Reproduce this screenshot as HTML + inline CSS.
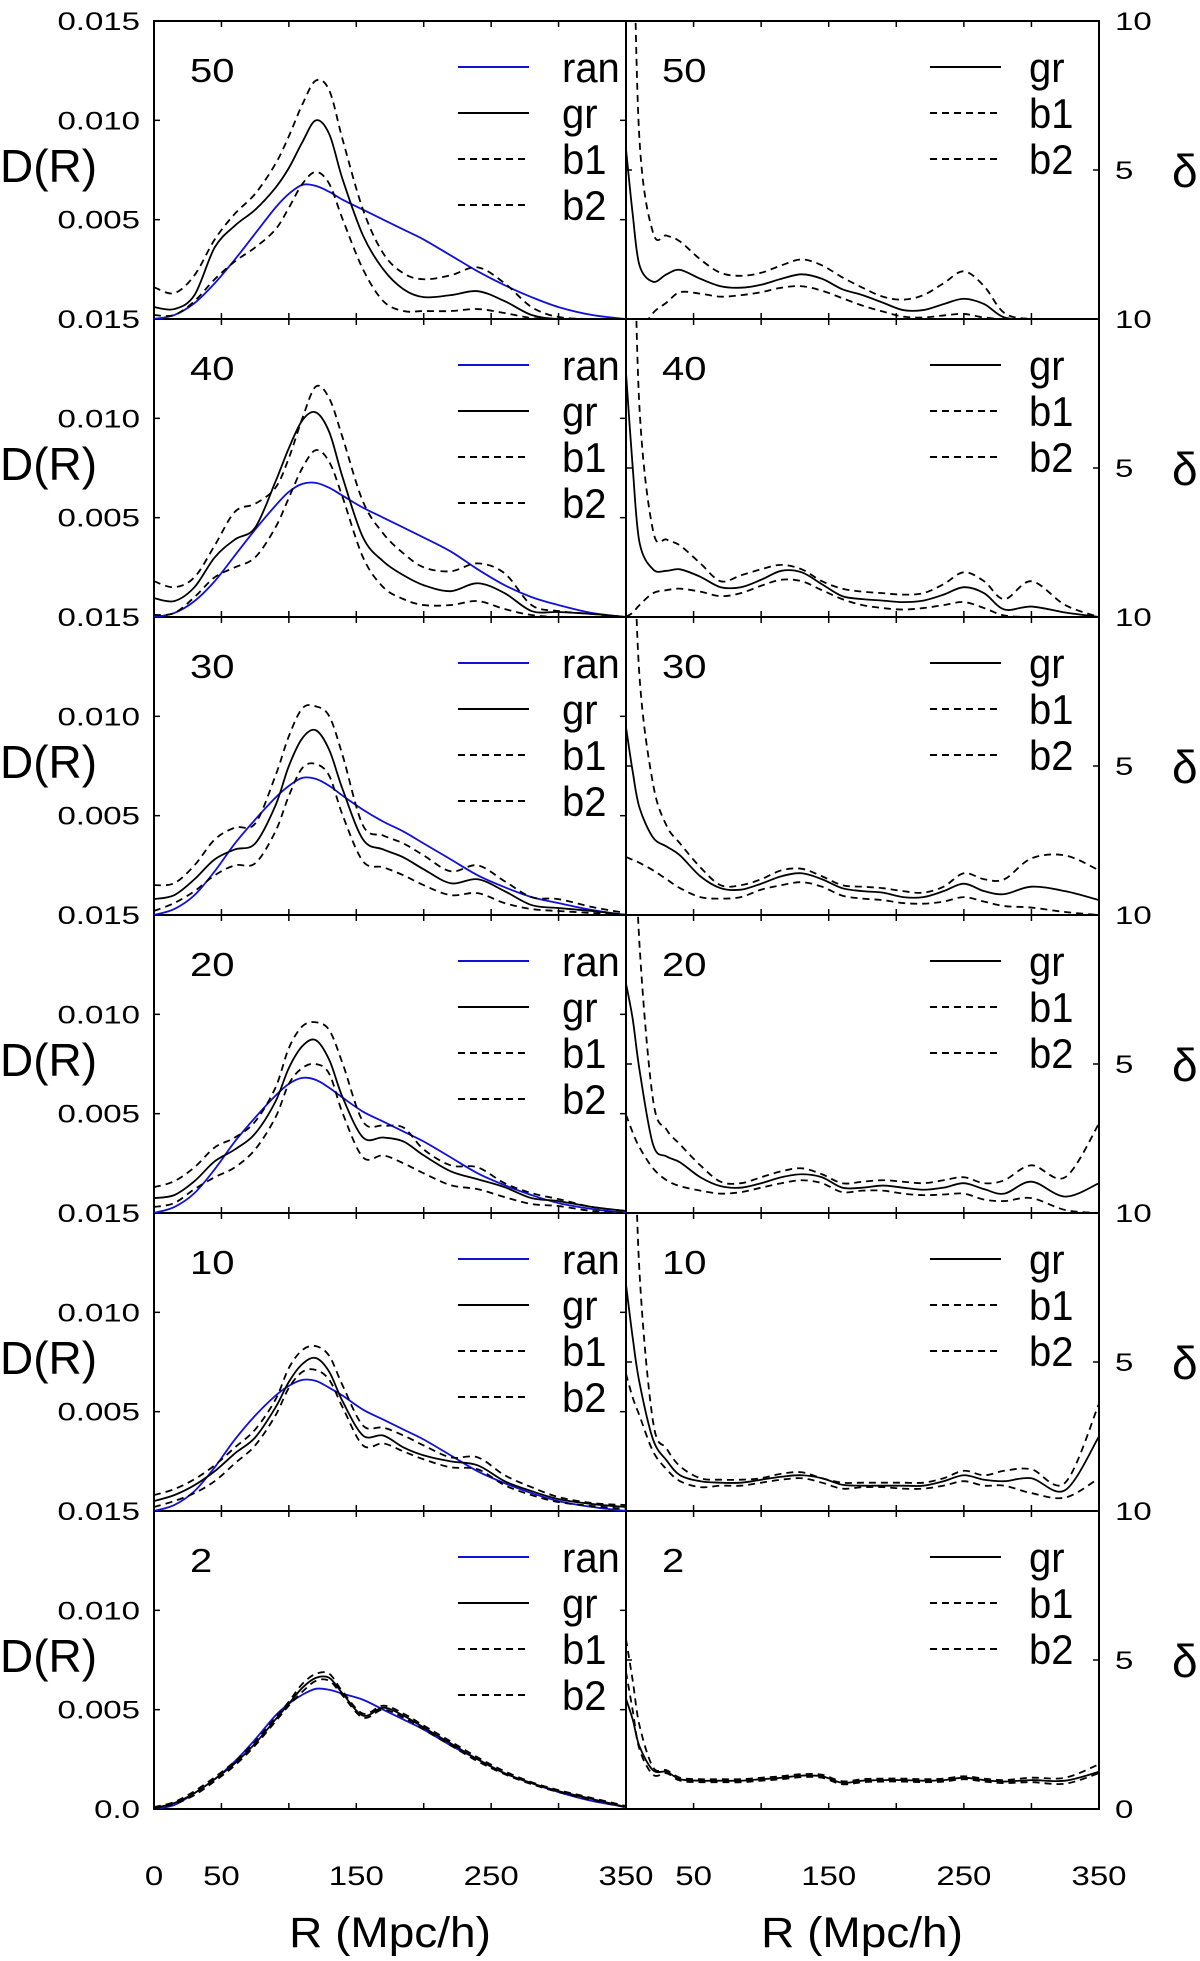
<!DOCTYPE html>
<html><head><meta charset="utf-8"><style>
html,body{margin:0;padding:0;background:#fff;}
svg{display:block;}
text{font-family:"Liberation Sans",sans-serif;fill:#000;}
</style></head>
<body>
<svg id="chart" width="1200" height="1961" viewBox="0 0 1200 1961" xmlns="http://www.w3.org/2000/svg">
<g id="frames"></g>
<g id="curves"></g>
<g id="labels"></g>
</svg>
<script>
// ---- data ----
const leftR = [0,15,30,45,60,75,90,100,110,120,130,140,155,170,185,200,220,240,260,280,300,325,350];
const rightR = [0,5,10,20,30,40,55,70,85,100,115,130,145,160,175,190,205,220,235,250,265,280,300,325,350];
const panelLabels = ["50","40","30","20","10","2"];
const leftTickLabels = ["0.015","0.010","0.005"];
const bottomLeftLabel = "0.0";
const rightTickLabels = ["10","5"];
const bottomRightLabel = "0";
const xTicksLeft = [0,50,150,250,350];
const xTicksRight = [50,150,250,350];

// D(R) in units of 1e-3
const ran50 = [0,0.2,0.8,1.8,3.0,4.3,5.6,6.3,6.75,6.7,6.4,6.0,5.5,5.0,4.5,4.0,3.2,2.4,1.7,1.1,0.6,0.2,0];
const gr50  = [0.6,0.5,1.2,3.6,4.7,5.5,6.6,7.6,8.9,10.0,9.3,7.0,4.2,2.5,1.5,1.1,1.2,1.4,0.9,0.2,0,0,0];
const b150  = [1.6,1.3,2.2,4.0,5.3,6.3,7.8,9.2,10.8,12.0,11.5,9.0,5.5,3.3,2.3,2.0,2.2,2.6,1.8,0.6,0.1,0,0];
const b250  = [0.2,0.2,0.9,2.0,2.9,3.6,4.5,5.6,6.8,7.4,6.8,5.0,2.5,0.9,0.4,0.4,0.4,0.5,0.3,0.05,0,0,0];
const dgr50 = [5.7,3.5,1.8,1.25,1.5,1.65,1.35,1.1,1.05,1.15,1.35,1.5,1.35,1.0,0.8,0.55,0.3,0.3,0.5,0.68,0.5,0.05,0,0,0];
const db150 = [20,14,6,2.9,2.8,2.6,2.0,1.55,1.45,1.55,1.8,2.0,1.8,1.4,1.05,0.75,0.65,0.8,1.2,1.6,1.1,0.2,0,0,0];
const db250 = [-1,-1,-0.5,0.2,0.55,0.9,0.85,0.75,0.8,0.9,1.05,1.1,0.95,0.7,0.45,0.25,0.08,0.05,0.12,0.17,0.05,0,0,0,0];

const ran40 = [0,0.2,0.8,1.8,3.1,4.4,5.6,6.3,6.7,6.75,6.5,6.1,5.5,5.0,4.5,4.0,3.3,2.4,1.6,1.0,0.6,0.2,0];
const gr40  = [0.95,0.8,1.5,3.0,3.9,4.5,6.8,8.5,9.9,10.3,9.3,7.0,4.0,2.8,2.1,1.6,1.3,1.7,1.2,0.3,0.25,0.15,0];
const b140  = [1.8,1.5,2.0,3.6,5.3,5.7,6.5,8.0,10.0,11.6,11.0,9.0,5.8,4.2,3.2,2.5,2.3,2.7,2.2,0.6,0.3,0.15,0];
const b240  = [0.1,0.2,1.0,2.0,2.5,3.0,4.5,6.0,7.5,8.4,7.8,6.0,3.0,1.5,0.9,0.6,0.6,0.8,0.4,0.1,0,0,0];
const dgr40 = [8.2,5.0,2.5,1.6,1.55,1.6,1.35,1.0,1.0,1.25,1.55,1.5,1.1,0.7,0.6,0.55,0.5,0.55,0.75,1.0,0.8,0.25,0.35,0.15,0];
const db140 = [20,15,7,2.9,2.6,2.4,1.8,1.2,1.4,1.6,1.75,1.6,1.2,0.95,0.85,0.8,0.75,0.8,1.1,1.5,1.2,0.6,1.2,0.4,0];
const db240 = [0,0.15,0.4,0.8,0.9,0.95,0.85,0.7,0.8,1.05,1.25,1.2,0.9,0.6,0.4,0.3,0.25,0.3,0.4,0.5,0.3,0.05,0,0,0];

const ran30 = [0,0.3,1.0,2.2,3.6,4.8,5.9,6.5,6.9,6.85,6.5,6.0,5.3,4.7,4.2,3.6,2.8,2.0,1.4,0.9,0.6,0.25,0];
const gr30  = [0.8,1.0,1.8,2.8,3.3,3.6,5.5,7.5,8.9,9.3,8.3,6.3,3.8,3.3,2.9,2.3,1.6,1.8,1.2,0.5,0.35,0.2,0];
const b130  = [1.5,1.6,2.5,3.8,4.4,4.6,7.0,9.0,10.4,10.5,10.0,8.0,4.5,4.0,3.6,3.0,2.2,2.5,1.7,0.9,0.8,0.4,0.1];
const b230  = [0.2,0.6,1.2,2.0,2.5,2.6,4.2,6.0,7.4,7.6,7.0,5.0,2.7,2.4,2.0,1.5,1.0,1.1,0.6,0.3,0.2,0.1,0];
const dgr30 = [6.3,4.8,3.6,2.6,2.3,2.0,1.3,0.9,0.85,1.05,1.3,1.4,1.2,0.9,0.8,0.75,0.6,0.6,0.8,1.05,0.8,0.7,0.95,0.8,0.5];
const db130 = [20,14,8,4.4,3.0,2.4,1.6,1.0,1.0,1.2,1.5,1.55,1.3,1.0,0.95,0.9,0.8,0.75,0.95,1.4,1.2,1.2,1.9,2.0,1.5];
const db230 = [1.95,1.85,1.75,1.5,1.2,0.9,0.6,0.55,0.6,0.85,1.0,1.1,0.95,0.65,0.55,0.5,0.4,0.38,0.45,0.6,0.45,0.3,0.25,0.1,0];

const ran20 = [0,0.3,1.0,2.2,3.6,4.8,5.9,6.5,6.8,6.7,6.3,5.8,5.1,4.6,4.1,3.6,2.8,2.0,1.4,0.9,0.5,0.2,0];
const gr20  = [0.75,0.9,1.6,2.6,3.2,4.0,5.6,7.3,8.4,8.7,7.7,5.8,3.8,3.8,3.6,2.9,2.1,1.7,1.3,0.75,0.6,0.3,0.1];
const b120  = [1.3,1.6,2.3,3.3,3.8,4.6,6.3,8.3,9.4,9.6,9.2,7.5,4.6,4.4,4.3,3.2,2.4,2.3,1.5,1.0,0.7,0.3,0.1];
const b220  = [0.3,0.5,1.2,1.8,2.3,3.2,4.8,6.5,7.3,7.5,7.0,5.0,2.8,2.9,2.5,2.0,1.4,1.2,0.8,0.45,0.35,0.1,0];
const dgr20 = [7.7,6.5,4.8,2.3,1.9,1.7,1.2,0.9,0.85,1.0,1.2,1.3,1.2,0.85,0.85,0.92,0.85,0.78,0.85,1.0,0.8,0.65,1.05,0.55,1.0];
const db120 = [20,15,9,3.8,2.8,2.3,1.6,1.05,1.0,1.2,1.4,1.5,1.3,1.0,1.05,1.1,1.05,1.0,1.1,1.2,1.0,1.1,1.6,1.2,3.0];
const db220 = [3.3,2.7,2.2,1.5,1.1,0.9,0.75,0.65,0.7,0.85,1.0,1.1,1.0,0.7,0.75,0.75,0.65,0.6,0.62,0.65,0.45,0.4,0.5,0.1,0];

const ran10 = [0,0.3,1.0,2.2,3.6,4.8,5.8,6.3,6.6,6.55,6.2,5.8,5.1,4.6,4.1,3.6,2.8,2.0,1.4,0.9,0.5,0.2,0];
const gr10  = [0.5,0.8,1.3,2.0,2.9,3.7,5.2,6.5,7.4,7.7,7.0,5.5,3.8,3.8,3.2,2.8,2.5,2.3,1.5,1.0,0.6,0.35,0.2];
const b110  = [0.8,1.1,1.6,2.3,3.2,4.1,5.6,7.2,8.1,8.3,7.8,6.3,4.3,4.2,3.8,3.3,2.7,2.7,1.8,1.2,0.7,0.4,0.3];
const b210  = [0.2,0.5,0.9,1.5,2.4,3.3,4.8,6.2,7.0,7.1,6.6,5.2,3.3,3.4,3.0,2.6,2.2,2.1,1.3,0.8,0.45,0.25,0.1];
const dgr10 = [7.6,5.8,4.3,2.4,1.7,1.2,1.0,0.95,0.95,1.05,1.15,1.2,1.1,0.88,0.85,0.85,0.85,0.85,1.0,1.2,1.05,1.0,1.1,0.7,2.5];
const db110 = [20,15,8,3.0,2.1,1.5,1.1,1.05,1.05,1.1,1.25,1.3,1.1,0.95,0.95,0.95,0.95,0.95,1.1,1.35,1.2,1.35,1.4,0.95,3.6];
const db210 = [4.6,3.8,3.2,2.0,1.4,1.0,0.8,0.85,0.85,0.95,1.05,1.1,0.95,0.75,0.8,0.8,0.75,0.75,0.85,1.0,0.85,0.85,0.6,0.45,1.1];

const ran2 = [0,0.2,0.8,1.5,2.4,3.5,4.7,5.3,5.75,6.05,6.0,5.8,5.5,5.0,4.5,4.0,3.2,2.5,1.8,1.3,0.85,0.4,0.1];
const gr2  = [0.05,0.3,0.8,1.5,2.3,3.3,4.5,5.3,6.1,6.6,6.6,5.8,4.7,5.1,4.7,4.1,3.3,2.5,1.8,1.3,0.9,0.5,0.1];
const b12  = [0.1,0.35,0.9,1.6,2.4,3.4,4.6,5.4,6.3,6.8,6.8,5.9,4.8,5.2,4.8,4.2,3.4,2.6,1.9,1.35,0.95,0.55,0.15];
const b22  = [0.02,0.25,0.7,1.4,2.2,3.2,4.4,5.2,5.9,6.45,6.45,5.7,4.6,5.0,4.6,4.0,3.2,2.4,1.75,1.25,0.85,0.45,0.08];
const dgr2 = [3.7,3.0,2.1,1.3,1.25,1.0,0.95,0.95,0.95,1.0,1.05,1.12,1.1,0.88,0.95,0.97,0.97,0.95,0.97,1.05,0.97,0.92,0.97,0.95,1.25];
const db12 = [5.7,4.3,2.8,1.4,1.3,1.05,1.0,1.0,1.0,1.05,1.1,1.17,1.15,0.93,1.0,1.02,1.02,1.0,1.02,1.1,1.02,0.97,1.05,1.05,1.5];
const db22 = [4.6,3.3,2.0,1.15,1.2,0.95,0.9,0.9,0.9,0.95,1.0,1.07,1.05,0.83,0.9,0.92,0.92,0.9,0.92,1.0,0.92,0.87,0.9,0.85,1.2];

const leftSeries = [[ran50,gr50,b150,b250],[ran40,gr40,b140,b240],[ran30,gr30,b130,b230],[ran20,gr20,b120,b220],[ran10,gr10,b110,b210],[ran2,gr2,b12,b22]];
const rightSeries = [[dgr50,db150,db250],[dgr40,db140,db240],[dgr30,db130,db230],[dgr20,db120,db220],[dgr10,db110,db210],[dgr2,db12,db22]];
const leftNames = ["ran","gr","b1","b2"];
const rightNames = ["gr","b1","b2"];

// ---- layout ----
const NS = "http://www.w3.org/2000/svg";
const X0 = 154, XM = 626, X1 = 1099, TOP = 21, PH = 298;
const RMAX = 350, DMAX = 15, DELMAX = 10;
const frames = document.getElementById('frames');
const curves = document.getElementById('curves');
const labels = document.getElementById('labels');

function xL(r){ return X0 + r / RMAX * (XM - X0); }
function xR(r){ return XM + r / RMAX * (X1 - XM); }
function yD(v, top){ return top + PH - v / DMAX * PH; }
function yDel(v, top){ return top + PH - v / DELMAX * PH; }

function mk(tag, attrs, parent){
  const e = document.createElementNS(NS, tag);
  for (const k in attrs) e.setAttribute(k, attrs[k]);
  parent.appendChild(e);
  return e;
}
function txt(str, x, y, fs, sx, sy, anchor, parent){
  const t = mk('text', {transform:`translate(${x},${y}) scale(${sx},${sy})`, 'font-size':fs, 'text-anchor':anchor}, parent);
  t.textContent = str;
  return t;
}
function smoothPath(pts){
  let d = `M${pts[0][0].toFixed(2)},${pts[0][1].toFixed(2)}`;
  for (let i = 0; i < pts.length - 1; i++){
    const p0 = pts[Math.max(0,i-1)], p1 = pts[i], p2 = pts[i+1], p3 = pts[Math.min(pts.length-1,i+2)];
    const c1x = p1[0] + (p2[0]-p0[0])/6, c1y = p1[1] + (p2[1]-p0[1])/6;
    const c2x = p2[0] - (p3[0]-p1[0])/6, c2y = p2[1] - (p3[1]-p1[1])/6;
    d += ` C${c1x.toFixed(2)},${c1y.toFixed(2)} ${c2x.toFixed(2)},${c2y.toFixed(2)} ${p2[0].toFixed(2)},${p2[1].toFixed(2)}`;
  }
  return d;
}

const defs = mk('defs', {}, document.getElementById('chart'));

for (let p = 0; p < 6; p++){
  const top = TOP + p * PH;
  // clip paths
  const cl = mk('clipPath', {id:'cl'+p}, defs);
  mk('rect', {x:X0, y:top, width:XM-X0, height:PH}, cl);
  const cr = mk('clipPath', {id:'cr'+p}, defs);
  mk('rect', {x:XM, y:top, width:X1-XM, height:PH}, cr);

  // frame
  const fr = mk('rect', {x:X0, y:top, width:X1-X0, height:PH, fill:'none', stroke:'#000', 'stroke-width':2}, frames);
  
  
  const mid = mk('line', {x1:XM, y1:top, x2:XM, y2:top+PH, stroke:'#000', 'stroke-width':2}, frames);
  
  
  // x ticks
  for (let r = 50; r < 350; r += 50){
    for (const xf of [xL, xR]){
      mk('line', {x1:xf(r), y1:top+PH, x2:xf(r), y2:top+PH-6, stroke:'#000', 'stroke-width':1.5}, frames);
      mk('line', {x1:xf(r), y1:top, x2:xf(r), y2:top+6, stroke:'#000', 'stroke-width':1.5}, frames);
    }
  }
  // y ticks
  for (const v of [5,10]){
    mk('line', {x1:X0, y1:yD(v,top), x2:X0+6, y2:yD(v,top), stroke:'#000', 'stroke-width':1.5}, frames);
    mk('line', {x1:XM, y1:yD(v,top), x2:XM-6, y2:yD(v,top), stroke:'#000', 'stroke-width':1.5}, frames);
  }
  mk('line', {x1:X1, y1:yDel(5,top), x2:X1-6, y2:yDel(5,top), stroke:'#000', 'stroke-width':1.5}, frames);
  mk('line', {x1:XM, y1:yDel(5,top), x2:XM+6, y2:yDel(5,top), stroke:'#000', 'stroke-width':1.5}, frames);

  // left curves
  const gl = mk('g', {'clip-path':`url(#cl${p})`}, curves);
  leftSeries[p].forEach((ser, k) => {
    const pts = ser.map((v,i) => [xL(leftR[i]), yD(v,top)]);
    const path = mk('path', {d:smoothPath(pts), fill:'none', stroke:k===0?'#1010d8':'#000', 'stroke-width':1.8, 'stroke-dasharray':k>=2?'7,5':'none'}, gl);
    
    
  });
  // right curves
  const gr = mk('g', {'clip-path':`url(#cr${p})`}, curves);
  rightSeries[p].forEach((ser, k) => {
    const pts = ser.map((v,i) => [xR(rightR[i]), yDel(v,top)]);
    const path = mk('path', {d:smoothPath(pts), fill:'none', stroke:'#000', 'stroke-width':1.8, 'stroke-dasharray':k>=1?'7,5':'none'}, gr);
    
    
  });

  // y tick labels
  leftTickLabels.forEach((s, i) => {
    const t = txt(s, 140, top + i*PH/3 + 9, 33, 1, 0.77, 'end', labels);
    
    
  });
  rightTickLabels.forEach((s, i) => {
    const t = txt(s, 1115, top + i*PH/2 + 9, 33, 1, 0.77, 'start', labels);
    
    
  });
  // axis titles per panel
  const dr = txt('D(R)', 0, top + 161, 46, 1, 1, 'start', labels);
  
  
  const dl = txt('δ', 1172, top + 166, 46, 1, 1, 'start', labels);
  
  
  // panel numbers
  const n1 = txt(panelLabels[p], 190, top + 61, 40, 1, 0.84, 'start', labels);
  
  
  const n2 = txt(panelLabels[p], 662, top + 61, 40, 1, 0.84, 'start', labels);
  
  
  // legends
  leftNames.forEach((nm, k) => {
    const ly = top + 46 + k*46;
    const ln = mk('line', {x1:458, y1:ly, x2:529, y2:ly, stroke:k===0?'#1010d8':'#000', 'stroke-width':2, 'stroke-dasharray':k>=2?'7,5':'none'}, labels);
    
    
    const t = txt(nm, 562, ly + 15, 40, 1, 1.05, 'start', labels);
    
    
  });
  rightNames.forEach((nm, k) => {
    const ly = top + 46 + k*46;
    const ln = mk('line', {x1:930, y1:ly, x2:1001, y2:ly, stroke:'#000', 'stroke-width':2, 'stroke-dasharray':k>=1?'7,5':'none'}, labels);
    
    
    const t = txt(nm, 1029, ly + 15, 40, 1, 1.05, 'start', labels);
    
    
  });
}
// bottom labels
const bottomY = TOP + 6*PH;
const bl = txt(bottomLeftLabel, 140, bottomY + 9, 33, 1, 0.77, 'end', labels);


const br = txt(bottomRightLabel, 1115, bottomY + 9, 33, 1, 0.77, 'start', labels);


xTicksLeft.forEach(r => {
  const t = txt(String(r), xL(r), 1885, 33, 1, 0.82, 'middle', labels);
  
  
});
xTicksRight.forEach(r => {
  const t = txt(String(r), xR(r), 1885, 33, 1, 0.82, 'middle', labels);
  
  
});
const xt1 = txt('R (Mpc/h)', 390, 1947, 46, 1, 0.92, 'middle', labels);


const xt2 = txt('R (Mpc/h)', 862, 1947, 46, 1, 0.92, 'middle', labels);


</script>
</body></html>
